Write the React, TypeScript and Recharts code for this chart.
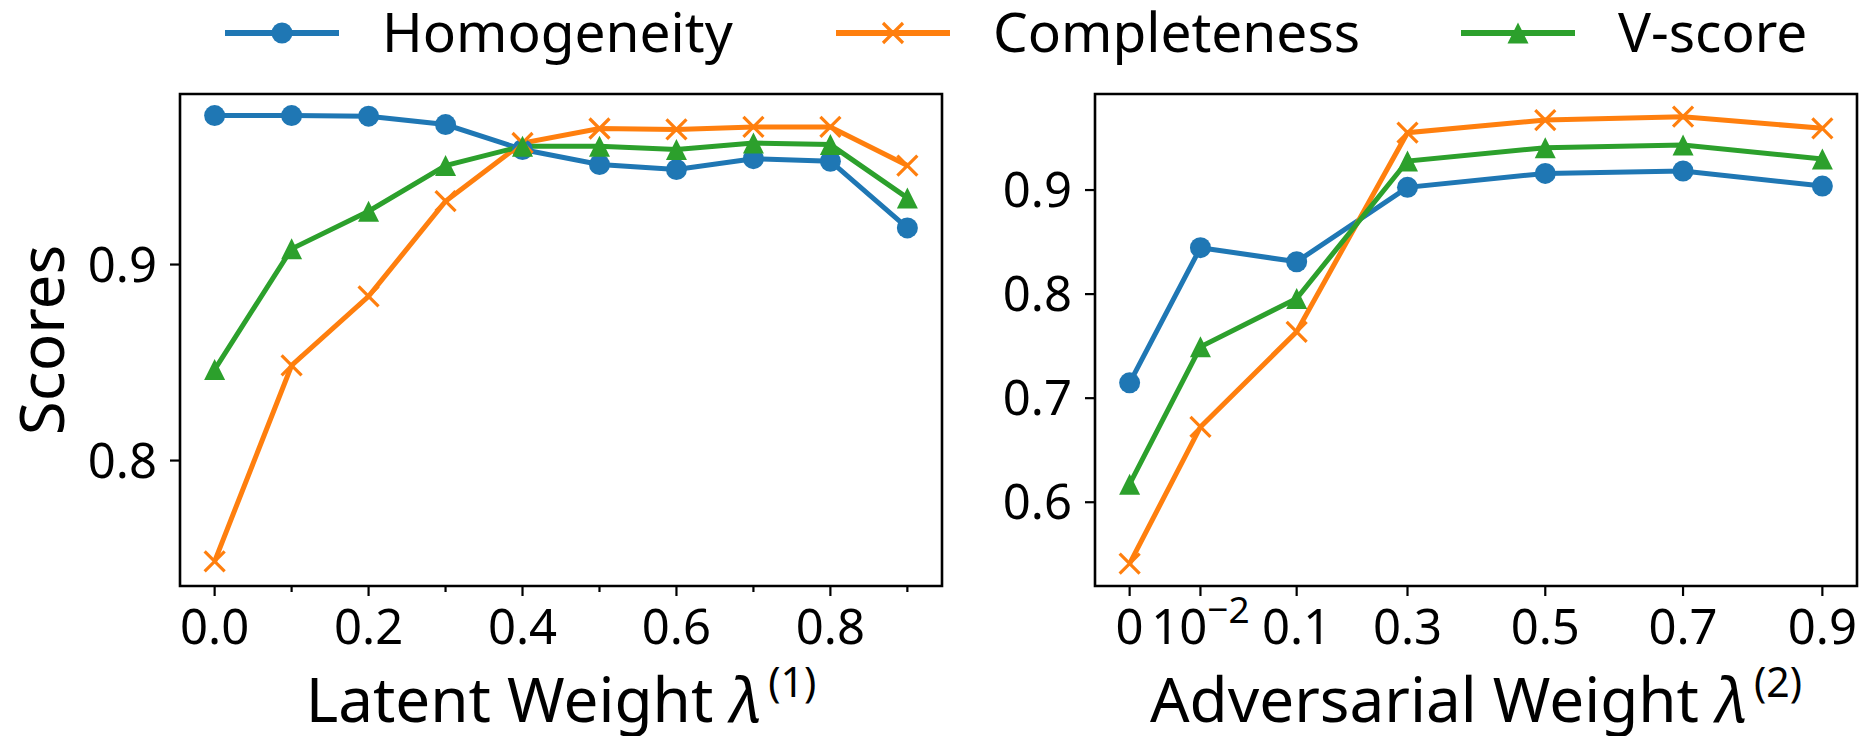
import React from "react";
import { LineChart, Line, XAxis, YAxis, ReferenceArea } from "recharts";

// left panel: latent weight sweep
const latentWeights = [0, 0.1, 0.2, 0.3, 0.4, 0.5, 0.6, 0.7, 0.8, 0.9];
const latentHomogeneity = [0.976, 0.976, 0.9757, 0.9714, 0.9587, 0.951, 0.9485, 0.954, 0.9527, 0.9187];
const latentCompleteness = [0.7486, 0.8485, 0.8838, 0.9323, 0.962, 0.9694, 0.9689, 0.9702, 0.9702, 0.9505];
const latentVScore = [0.8464, 0.908, 0.9272, 0.9505, 0.9604, 0.9604, 0.9587, 0.962, 0.9612, 0.934];
const latentYTicks = [0.8, 0.9];

// right panel: adversarial weight sweep (axis is not uniform, positions)
const adversarialLabels = ["0", "10^-2", "0.1", "0.3", "0.5", "0.7", "0.9"];
const adversarialPositions = [0, 0.092, 0.217, 0.361, 0.54, 0.719, 0.9];
const adversarialHomogeneity = [0.7147, 0.8446, 0.8311, 0.9026, 0.916, 0.9183, 0.9038];
const adversarialCompleteness = [0.541, 0.6724, 0.7638, 0.9551, 0.9673, 0.9705, 0.9593];
const adversarialVScore = [0.6173, 0.7494, 0.7958, 0.9279, 0.9407, 0.9433, 0.9298];
const adversarialYTicks = [0.6, 0.7, 0.8, 0.9];

const seriesNames = ["Homogeneity", "Completeness", "V-score"];
const BLUE = "#1f77b4";
const ORANGE = "#ff7f0e";
const GREEN = "#2ca02c";
const FONT = "'Noto Sans', sans-serif";

const latentData = latentWeights.map((x, i) => ({
  x,
  homogeneity: latentHomogeneity[i],
  completeness: latentCompleteness[i],
  vscore: latentVScore[i],
}));

const adversarialData = adversarialPositions.map((x, i) => ({
  x,
  homogeneity: adversarialHomogeneity[i],
  completeness: adversarialCompleteness[i],
  vscore: adversarialVScore[i],
}));

function CircleMark({ cx, cy }: any) {
  if (cx == null || cy == null) return null;
  return <circle cx={cx} cy={cy} r={10.5} fill={BLUE} />;
}

function CrossMark({ cx, cy }: any) {
  if (cx == null || cy == null) return null;
  const s = 10;
  return (
    <path
      d={`M${cx - s},${cy - s}L${cx + s},${cy + s}M${cx - s},${cy + s}L${cx + s},${cy - s}`}
      stroke={ORANGE}
      strokeWidth={3.2}
      fill="none"
    />
  );
}

function TriangleMark({ cx, cy }: any) {
  if (cx == null || cy == null) return null;
  const s = 10.5;
  return <path d={`M${cx},${cy - s}L${cx - s},${cy + s}L${cx + s},${cy + s}Z`} fill={GREEN} />;
}

function YTick({ x, y, payload }: any) {
  return (
    <g>
      <line x1={x - 10} x2={x} y1={y} y2={y} stroke="#000" strokeWidth={2.2} />
      <text x={x - 23} y={y + 17} textAnchor="end" fontSize={49} fontFamily={FONT} fill="#000">
        {payload.value.toFixed(1)}
      </text>
    </g>
  );
}

function LatentXTick({ x, y, payload }: any) {
  const major = Math.round(payload.value * 10) % 2 === 0;
  return (
    <g>
      <line x1={x} x2={x} y1={y} y2={y + (major ? 10 : 6)} stroke="#000" strokeWidth={2.2} />
      {major && (
        <text x={x} y={y + 58} textAnchor="middle" fontSize={49} fontFamily={FONT} fill="#000">
          {payload.value.toFixed(1)}
        </text>
      )}
    </g>
  );
}

function AdversarialXTick({ x, y, index }: any) {
  const label = adversarialLabels[index] ?? "";
  const [base, exp] = label.split("^");
  return (
    <g>
      <line x1={x} x2={x} y1={y} y2={y + 10} stroke="#000" strokeWidth={2.2} />
      <text x={x} y={y + 58} textAnchor="middle" fontSize={49} fontFamily={FONT} fill="#000">
        {base}
        {exp && (
          <tspan dy={-21} fontSize={37}>
            {exp.replace("-", "\u2212")}
          </tspan>
        )}
      </text>
    </g>
  );
}

function xTitle(text: string, sup: string) {
  return (props: any) => {
    const vb = props.viewBox ?? { x: 0, y: 586, width: 760 };
    return (
      <text x={vb.x + vb.width / 2} y={vb.y + 136} textAnchor="middle" fontSize={62} fontFamily={FONT} fill="#000">
        {text}
        <tspan fontStyle="italic">λ</tspan>
        <tspan dy={-25} dx={6} fontSize={41}>
          ({sup})
        </tspan>
      </text>
    );
  };
}

function scoresTitle(props: any) {
  const vb = props.viewBox ?? { x: 0, y: 94, width: 180, height: 492 };
  const cx = vb.x + vb.width - 140;
  const cy = vb.y + vb.height / 2;
  return (
    <text
      x={cx}
      y={cy}
      transform={`rotate(-90 ${cx} ${cy})`}
      textAnchor="middle"
      dominantBaseline="central"
      fontSize={62}
      fontFamily={FONT}
      fill="#000"
    >
      Scores
    </text>
  );
}

function Series() {
  return [
    <Line
      key="h"
      dataKey="homogeneity"
      stroke={BLUE}
      strokeWidth={5}
      dot={(p: any) => <CircleMark key={`h${p.index}`} {...p} />}
      isAnimationActive={false}
      type="linear"
    />,
    <Line
      key="c"
      dataKey="completeness"
      stroke={ORANGE}
      strokeWidth={5}
      dot={(p: any) => <CrossMark key={`c${p.index}`} {...p} />}
      isAnimationActive={false}
      type="linear"
    />,
    <Line
      key="v"
      dataKey="vscore"
      stroke={GREEN}
      strokeWidth={5}
      dot={(p: any) => <TriangleMark key={`v${p.index}`} {...p} />}
      isAnimationActive={false}
      type="linear"
    />,
  ];
}

function Legend() {
  const colors = [BLUE, ORANGE, GREEN];
  const starts = [225, 836, 1461];
  return (
    <svg width={1860} height={80} style={{ position: "absolute", left: 0, top: 0 }}>
      {seriesNames.map((name, i) => {
        const x0 = starts[i];
        const mid = x0 + 57;
        const y = 33;
        return (
          <g key={name}>
            <line x1={x0} x2={x0 + 114} y1={y} y2={y} stroke={colors[i]} strokeWidth={6} />
            {i === 0 && <CircleMark cx={mid} cy={y} />}
            {i === 1 && <CrossMark cx={mid} cy={y} />}
            {i === 2 && <TriangleMark cx={mid} cy={y} />}
            <text x={x0 + 157} y={52} fontSize={55} fontFamily={FONT} fill="#000">
              {name}
            </text>
          </g>
        );
      })}
    </svg>
  );
}

export default function App() {
  const latentDomainX: [number, number] = [-0.045, 0.945];
  const latentDomainY: [number, number] = [0.736, 0.987];
  const advDomainX: [number, number] = [-0.045, 0.945];
  const advDomainY: [number, number] = [0.5195, 0.9923];

  return (
    <div style={{ position: "absolute", left: 0, top: 0, width: 1860, height: 736, background: "#fff" }}>
      <div style={{ position: "absolute", left: 0, top: 0 }}>
        <LineChart width={950} height={736} data={latentData} margin={{ top: 94, right: 8, bottom: 0, left: 0 }}>
          <XAxis
            dataKey="x"
            type="number"
            domain={latentDomainX}
            ticks={latentWeights}
            interval={0}
            allowDataOverflow
            height={150}
            tickSize={0}
            tickMargin={0}
            axisLine={false}
            tick={<LatentXTick />}
            label={xTitle("Latent Weight ", "1")}
          />
          <YAxis
            type="number"
            domain={latentDomainY}
            ticks={latentYTicks}
            interval={0}
            allowDataOverflow
            width={180}
            tickSize={0}
            tickMargin={0}
            axisLine={false}
            tick={<YTick />}
            label={scoresTitle}
          />
          {Series()}
          <ReferenceArea
            x1={latentDomainX[0]}
            x2={latentDomainX[1]}
            y1={latentDomainY[0]}
            y2={latentDomainY[1]}
            fill="none"
            stroke="#000"
            strokeWidth={2.6}
            ifOverflow="visible"
          />
        </LineChart>
      </div>
      <div style={{ position: "absolute", left: 950, top: 0 }}>
        <LineChart width={910} height={736} data={adversarialData} margin={{ top: 94, right: 3, bottom: 0, left: 0 }}>
          <XAxis
            dataKey="x"
            type="number"
            domain={advDomainX}
            ticks={adversarialPositions}
            interval={0}
            allowDataOverflow
            height={150}
            tickSize={0}
            tickMargin={0}
            axisLine={false}
            tick={<AdversarialXTick />}
            label={xTitle("Adversarial Weight ", "2")}
          />
          <YAxis
            type="number"
            domain={advDomainY}
            ticks={adversarialYTicks}
            interval={0}
            allowDataOverflow
            width={145}
            tickSize={0}
            tickMargin={0}
            axisLine={false}
            tick={<YTick />}
          />
          {Series()}
          <ReferenceArea
            x1={advDomainX[0]}
            x2={advDomainX[1]}
            y1={advDomainY[0]}
            y2={advDomainY[1]}
            fill="none"
            stroke="#000"
            strokeWidth={2.6}
            ifOverflow="visible"
          />
        </LineChart>
      </div>
      <Legend />
    </div>
  );
}
